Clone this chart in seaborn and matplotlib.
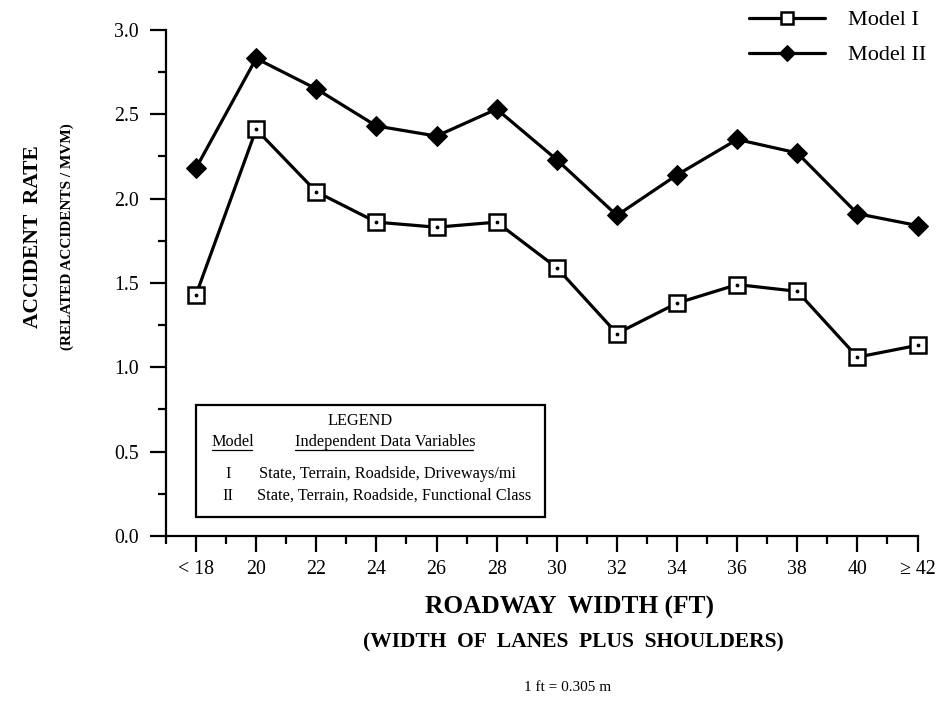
import pandas as pd
import seaborn as sns
import matplotlib.pyplot as plt
from matplotlib.patches import Rectangle
from matplotlib.ticker import MultipleLocator

widths = ['< 18', '20', '22', '24', '26', '28', '30', '32', '34', '36', '38', '40', '\u2265 42']
model_1 = [1.43, 2.41, 2.04, 1.86, 1.83, 1.86, 1.59, 1.20, 1.38, 1.49, 1.45, 1.06, 1.13]
model_2 = [2.18, 2.83, 2.65, 2.43, 2.37, 2.53, 2.23, 1.90, 2.14, 2.35, 2.27, 1.91, 1.84]

sns.set_theme(style='ticks')
plt.rcParams['font.family'] = ['Liberation Serif', 'DejaVu Serif']
plt.rcParams['text.color'] = 'black'

df = pd.DataFrame({'pos': range(len(widths)), 'Model I': model_1, 'Model II': model_2})

fig = plt.figure(figsize=(9.43, 7.09), dpi=100)
ax = fig.add_axes([0.176, 0.244, 0.797, 0.714])

sns.lineplot(data=df, x='pos', y='Model II', ax=ax, color='black', lw=2.3,
             marker='D', markersize=10, markerfacecolor='black',
             markeredgecolor='black', label='Model II', zorder=3, clip_on=False)
sns.lineplot(data=df, x='pos', y='Model I', ax=ax, color='black', lw=2.3,
             marker='s', markersize=11, markerfacecolor='white',
             markeredgecolor='black', markeredgewidth=1.8, label='Model I',
             zorder=3, clip_on=False)
ax.scatter(df['pos'], df['Model I'], s=3, color='black', zorder=5, clip_on=False)

ax.set_xlim(-0.5, 12)
ax.set_ylim(0, 3.0)
ax.set_xticks(range(len(widths)))
ax.set_xticklabels(widths)
ax.xaxis.set_minor_locator(MultipleLocator(0.5))
ax.yaxis.set_major_locator(MultipleLocator(0.5))
ax.yaxis.set_minor_locator(MultipleLocator(0.25))
ax.yaxis.set_major_formatter(plt.FormatStrFormatter('%.1f'))
ax.tick_params(which='major', length=11.5, width=1.6, labelsize=14.3, pad=8,
               color='black', labelcolor='black')
ax.tick_params(axis='x', which='major', pad=6)
ax.tick_params(which='minor', length=6, width=1.6, color='black')
for s in ['top', 'right']:
    ax.spines[s].set_visible(False)
for s in ['left', 'bottom']:
    ax.spines[s].set_linewidth(1.6)
    ax.spines[s].set_color('black')
ax.set_xlabel('')
ax.set_ylabel('')

# axis titles
fig.text(0.035, 0.666, 'ACCIDENT  RATE', rotation=90, ha='center', va='center',
         fontsize=15.5, fontweight='bold')
fig.text(0.071, 0.666, '(RELATED ACCIDENTS / MVM)', rotation=90, ha='center',
         va='center', fontsize=11, fontweight='bold')
fig.text(0.604, 0.143, 'ROADWAY  WIDTH (FT)', ha='center', va='center',
         fontsize=18.3, fontweight='bold')
fig.text(0.608, 0.094, '(WIDTH  OF  LANES  PLUS  SHOULDERS)', ha='center',
         va='center', fontsize=15.5, fontweight='bold')
fig.text(0.602, 0.03, '1 ft = 0.305 m', ha='center', va='center', fontsize=11)

# series legend, top right
handles, labels = ax.get_legend_handles_labels()
ax.get_legend().remove()
fig.legend(handles[::-1], labels[::-1], loc='upper left',
           bbox_to_anchor=(749 / 943, 0.986), frameon=False, fontsize=16,
           handlelength=3.4, labelspacing=0.65, handletextpad=1.05,
           borderpad=0, borderaxespad=0, markerscale=0.8)

# inner text legend box
fs = 11.7
ax.add_patch(Rectangle((0.0, 0.113), 5.8, 0.664, fill=False, lw=1.6,
                       edgecolor='black', zorder=4))
ax.text(2.72, 0.68, 'LEGEND', ha='center', va='center', fontsize=fs)
ax.text(0.26, 0.555, 'Model', ha='left', va='center', fontsize=fs)
ax.text(1.65, 0.555, 'Independent Data Variables', ha='left', va='center', fontsize=fs)
ax.plot([0.26, 0.93], [0.51, 0.51], color='black', lw=0.9)
ax.plot([1.65, 4.6], [0.51, 0.51], color='black', lw=0.9)
ax.text(0.53, 0.37, 'I', ha='center', va='center', fontsize=fs)
ax.text(1.05, 0.37, 'State, Terrain, Roadside, Driveways/mi', ha='left',
        va='center', fontsize=fs)
ax.text(0.53, 0.24, 'II', ha='center', va='center', fontsize=fs)
ax.text(1.02, 0.24, 'State, Terrain, Roadside, Functional Class', ha='left',
        va='center', fontsize=fs)

fig.savefig('out.png', dpi=100)
